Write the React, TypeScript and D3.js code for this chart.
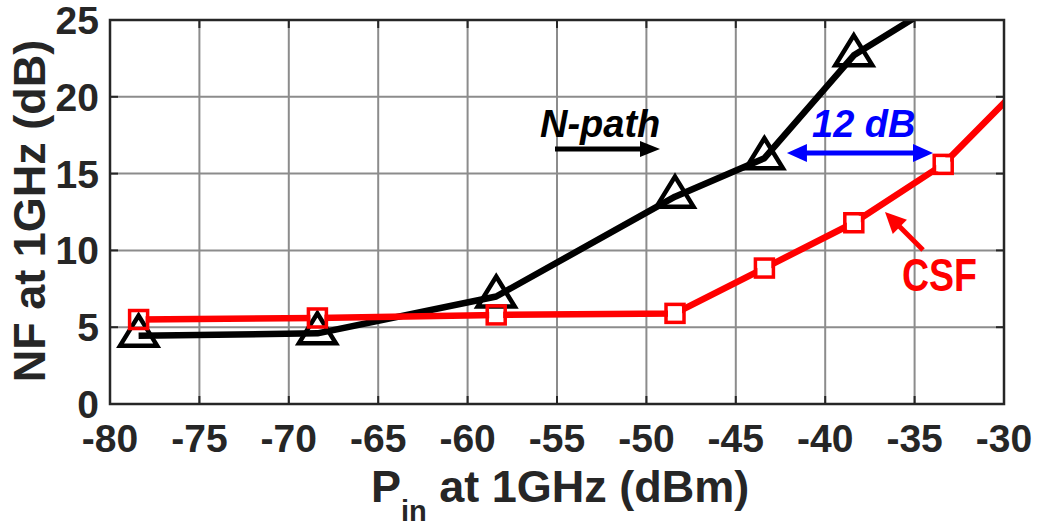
import React from 'react';
import * as d3 from 'd3';

// Axis ticks
const pinTicks = [-80, -75, -70, -65, -60, -55, -50, -45, -40, -35, -30];
const nfTicks = [0, 5, 10, 15, 20, 25];

// N-path receiver: NF (dB) vs input power (dBm)
const npathPin = [-78.4, -68.4, -58.4, -48.4, -43.4, -38.4, -33.4];
const npathNF = [4.45, 4.6, 7.0, 13.5, 16.0, 22.7, 26.3];

// CSF receiver: NF (dB) vs input power (dBm)
const csfPin = [-78.4, -68.4, -58.4, -48.4, -43.4, -38.4, -33.4, -28.4];
const csfNF = [5.5, 5.6, 5.8, 5.9, 8.85, 11.8, 15.6, 21.5];

const FONT = '"Liberation Sans", Arial, Helvetica, sans-serif';
const AXIS_COLOR = '#262626';

function arrowHead(x1: number, y1: number, x2: number, y2: number, len: number, half: number) {
  const dx = x2 - x1, dy = y2 - y1;
  const d = Math.hypot(dx, dy);
  const ux = dx / d, uy = dy / d;
  const bx = x2 - ux * len, by = y2 - uy * len;
  return `${x2},${y2} ${bx - uy * half},${by + ux * half} ${bx + uy * half},${by - ux * half}`;
}

export default function App() {
  const W = 1037, H = 526;
  const L = 110, R = 1004, T = 20, B = 404;
  const x = d3.scaleLinear().domain([-80, -30]).range([L, R]);
  const y = d3.scaleLinear().domain([0, 25]).range([B, T]);
  const line = d3.line<[number, number]>().x(d => x(d[0])).y(d => y(d[1]));

  const npath: [number, number][] = npathPin.map((p, i) => [p, npathNF[i]]);
  const csf: [number, number][] = csfPin.map((p, i) => [p, csfNF[i]]);
  const inside = (d: [number, number]) => d[0] >= -80 && d[0] <= -30 && d[1] >= 0 && d[1] <= 25;

  const sq = 18;
  const sqHole = 14;

  // annotation anchors in data units
  const gapY = 16.34, gapX1 = -42.14, gapX2 = -33.97;
  const ax1 = x(gapX1), ax2 = x(gapX2), ay = y(gapY);

  const npArrow = { x1: 555, x2: 660, y: 149 };
  const csfArrow = { x1: 923, y1: 250, x2: 885, y2: 212 };

  return (
    <svg width={W} height={H} style={{ position: 'absolute', left: 0, top: 0, background: '#fff' }}
      fontFamily={FONT}>
      <defs>
        <clipPath id="plotArea">
          <rect x={L} y={T} width={R - L} height={B - T} />
        </clipPath>
        <mask id="csfMask" maskUnits="userSpaceOnUse" x={0} y={0} width={W} height={H}>
          <rect x={0} y={0} width={W} height={H} fill="#fff" />
          {csf.filter(inside).map((d, i) => (
            <rect key={i} x={x(d[0]) - sqHole / 2} y={y(d[1]) - sqHole / 2} width={sqHole} height={sqHole} fill="#000" />
          ))}
        </mask>
      </defs>
      <rect x={0} y={0} width={W} height={H} fill="#fff" />

      {/* grid */}
      <g stroke="#8c8c8c" strokeWidth={2}>
        {pinTicks.slice(1, -1).map(t => (
          <line key={'gx' + t} x1={x(t)} x2={x(t)} y1={T} y2={B} />
        ))}
        {nfTicks.slice(1, -1).map(t => (
          <line key={'gy' + t} x1={L} x2={R} y1={y(t)} y2={y(t)} />
        ))}
      </g>

      {/* inward tick marks */}
      <g stroke={AXIS_COLOR} strokeWidth={2}>
        {pinTicks.map(t => (
          <g key={'tx' + t}>
            <line x1={x(t)} x2={x(t)} y1={B} y2={B - 8} />
            <line x1={x(t)} x2={x(t)} y1={T} y2={T + 8} />
          </g>
        ))}
        {nfTicks.map(t => (
          <g key={'ty' + t}>
            <line x1={L} x2={L + 8} y1={y(t)} y2={y(t)} />
            <line x1={R} x2={R - 8} y1={y(t)} y2={y(t)} />
          </g>
        ))}
      </g>

      {/* series */}
      <g clipPath="url(#plotArea)">
        <path d={line(npath) || ''} fill="none" stroke="#000" strokeWidth={6.5} strokeLinejoin="round" />
      </g>
      {npath.filter(inside).map((d, i) => (
        <path key={'tri' + i}
          transform={`translate(${x(d[0])},${y(d[1])})`}
          d="M0,-20 L18.5,10 L-18.5,10 Z"
          fill="none" stroke="#000" strokeWidth={4.5} strokeLinejoin="miter" />
      ))}
      <g clipPath="url(#plotArea)">
        <path d={line(csf) || ''} fill="none" stroke="#ff0000" strokeWidth={6.5} strokeLinejoin="round"
          mask="url(#csfMask)" />
      </g>
      {csf.filter(inside).map((d, i) => (
        <rect key={'sq' + i} x={x(d[0]) - sq / 2} y={y(d[1]) - sq / 2} width={sq} height={sq}
          fill="none" stroke="#ff0000" strokeWidth={3.5} />
      ))}

      {/* axes box */}
      <rect x={L} y={T} width={R - L} height={B - T} fill="none" stroke={AXIS_COLOR} strokeWidth={2.5} />

      {/* tick labels */}
      <g fill={AXIS_COLOR} fontWeight="bold" fontSize={39}>
        {pinTicks.map(t => (
          <text key={'lx' + t} x={x(t)} y={452} textAnchor="middle">{t}</text>
        ))}
        {nfTicks.map(t => (
          <text key={'ly' + t} x={99} y={y(t) + 14} textAnchor="end">{t}</text>
        ))}
      </g>

      {/* axis titles */}
      <text transform="translate(45,211) rotate(-90)" textAnchor="middle" fill={AXIS_COLOR}
        fontWeight="bold" fontSize={45}>NF at 1GHz (dB)</text>
      <text x={371} y={502} fill={AXIS_COLOR} fontWeight="bold" fontSize={45}>
        P
        <tspan fontSize={29} dy={19}>in</tspan>
        <tspan dy={-19}> at 1GHz (dBm)</tspan>
      </text>

      {/* N-path label */}
      <text x={540} y={137} fill="#000" fontWeight="bold" fontStyle="italic" fontSize={38}>N-path</text>
      <line x1={npArrow.x1} x2={npArrow.x2 - 16} y1={npArrow.y} y2={npArrow.y} stroke="#000" strokeWidth={5} />
      <polygon points={arrowHead(npArrow.x1, npArrow.y, npArrow.x2, npArrow.y, 20, 8)} fill="#000" />

      {/* 12 dB gap */}
      <text x={812} y={137} fill="#0000ff" fontWeight="bold" fontStyle="italic" fontSize={38}>12 dB</text>
      <line x1={ax1 + 16} x2={ax2 - 16} y1={ay} y2={ay} stroke="#0000ff" strokeWidth={5} />
      <polygon points={arrowHead(ax2, ay, ax1, ay, 20, 9)} fill="#0000ff" />
      <polygon points={arrowHead(ax1, ay, ax2, ay, 20, 9)} fill="#0000ff" />

      {/* CSF label */}
      <line x1={csfArrow.x1} y1={csfArrow.y1} x2={csfArrow.x2 + 11} y2={csfArrow.y2 + 11}
        stroke="#ff0000" strokeWidth={5} />
      <polygon points={arrowHead(csfArrow.x1, csfArrow.y1, csfArrow.x2, csfArrow.y2, 21, 10)} fill="#ff0000" />
      <text x={902} y={291} fill="#ff0000" fontWeight="bold" fontSize={46} textLength={75}
        lengthAdjust="spacingAndGlyphs">CSF</text>
    </svg>
  );
}
